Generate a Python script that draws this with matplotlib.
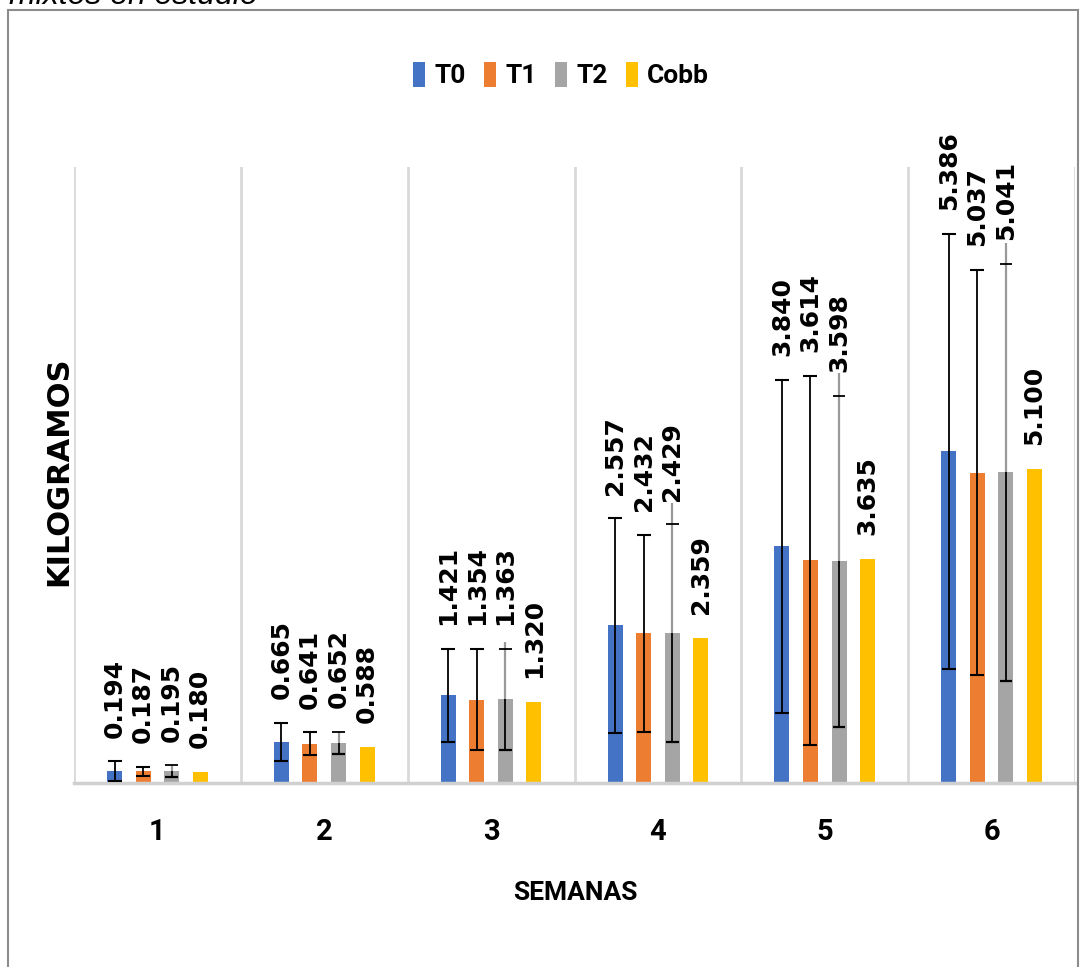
import matplotlib.pyplot as plt
from matplotlib.patches import Rectangle
import numpy as np

# datos
semanas = ["1", "2", "3", "4", "5", "6"]
series = ["T0", "T1", "T2", "Cobb"]
t0 = [0.194, 0.665, 1.421, 2.557, 3.840, 5.386]
t1 = [0.187, 0.641, 1.354, 2.432, 3.614, 5.037]
t2 = [0.195, 0.652, 1.363, 2.429, 3.598, 5.041]
cobb = [0.180, 0.588, 1.320, 2.359, 3.635, 5.100]
err_t0 = [0.16, 0.31, 0.76, 1.74, 2.71, 3.53]
err_t1 = [0.08, 0.18, 0.82, 1.60, 3.00, 3.29]
err_t2 = [0.09, 0.18, 0.82, 1.77, 2.69, 3.39]
ext_t2 = [0.0, 0.0, 0.11, 0.35, 0.36, 0.34]   # trazo gris extra sobre T2

colores = ["#4472C4", "#ED7D31", "#A5A5A5", "#FFC000"]
valores = [t0, t1, t2, cobb]
errores = [err_t0, err_t1, err_t2, None]

narrow = ['Roboto', 'DejaVu Sans']

fig = plt.figure(figsize=(10.92, 9.67), dpi=100)
ax = fig.add_axes([74 / 1092, 1 - 783 / 967, 1001 / 1092, 616 / 967])

x = np.arange(1, len(semanas) + 1)
paso = 0.171
ancho = 0.09

for i, (nombre, vals, col, err) in enumerate(zip(series, valores, colores, errores)):
    pos = x + (i - 1.5) * paso
    vals = np.array(vals)
    ax.bar(pos, vals, ancho, color=col, label=nombre, zorder=2)
    if err is None:
        tops = vals
    elif nombre == "T2":
        err = np.array(err)
        ext = np.array(ext_t2)
        ax.vlines(pos, vals - err, vals, color="black", lw=1.3, zorder=3)
        ax.vlines(pos, vals, vals + err + ext, color="#9a9a9a", lw=1.6, zorder=3)
        ax.hlines(vals - err, pos - 0.038, pos + 0.038, color="black", lw=1.6, zorder=3)
        ax.hlines(vals + err, pos - 0.038, pos + 0.038, color="black", lw=1.3, zorder=3)
        tops = vals + err
    else:
        err = np.array(err)
        ax.errorbar(pos, vals, yerr=err, fmt="none", ecolor="black",
                    elinewidth=1.3, capsize=4.7, capthick=1.5, zorder=3)
        tops = vals + err
    for px, v, t in zip(pos, vals, tops):
        ax.annotate(f"{v:.3f}", (px, t), xytext=(0, 17), textcoords="offset points",
                    rotation=90, ha="center", va="bottom", fontsize=18,
                    fontweight="bold", family="DejaVu Sans", annotation_clip=False)

ax.set_xlim(0.5, 6.5)
ax.set_ylim(0, 10)
ax.set_xticks(x)
ax.set_xticklabels(semanas, fontsize=21, fontweight="bold", family=narrow)
ax.set_xticks(np.arange(0.5, 7, 1), minor=True)
ax.tick_params(axis="x", which="both", length=0, pad=25)
ax.set_yticks([])
ax.grid(axis="x", which="minor", color="#d9d9d9", lw=2, zorder=0)
for s in ["top", "left", "right"]:
    ax.spines[s].set_visible(False)
ax.spines["bottom"].set_color("#d0d0d0")
ax.spines["bottom"].set_linewidth(2.5)

fig.text(59 / 1092, 1 - 471 / 967, "KILOGRAMOS", rotation=90, ha="center", va="center",
         fontsize=22, fontweight="bold", family="DejaVu Sans")
fig.text(575 / 1092, 1 - 893 / 967, "SEMANAS", ha="center", va="center",
         fontsize=19, fontweight="bold", family=narrow)

fig.legend(loc="center", bbox_to_anchor=(561 / 1092, 1 - 75 / 967), ncol=4, frameon=False,
           handlelength=0.45, handleheight=1.1, handletextpad=0.35, columnspacing=0.7,
           prop={"family": narrow, "weight": "bold", "size": 19})

# marco exterior y titulo cortado
fig.patches.append(Rectangle((8 / 1092, -0.05), 1070 / 1092, 1.05 - 10 / 967,
                             transform=fig.transFigure, fill=False, ec="#8c8c8c", lw=1.5))
fig.text(9 / 1092, 1 - 4 / 967, "mixtos en estudio", ha="left", va="baseline",
         fontsize=23, style="italic", family="Liberation Sans")

plt.savefig("out.png", dpi=100)
